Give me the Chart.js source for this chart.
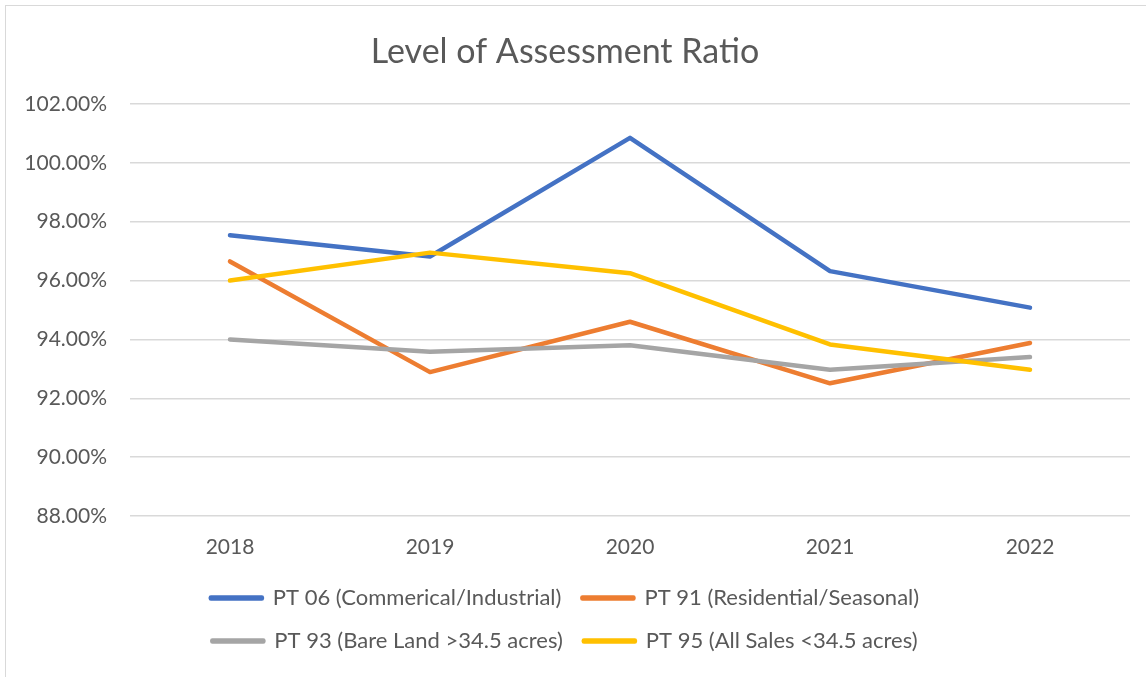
<!DOCTYPE html>
<html>
<head>
<meta charset="utf-8">
<title>Level of Assessment Ratio</title>
<script src="https://cdn.jsdelivr.net/npm/chart.js@4"></script>
<style>
  html, body { margin: 0; padding: 0; overflow: hidden; background: #fff; }
  #wrap { position: relative; width: 1146px; height: 677px; }
  #frame { position: absolute; left: 5px; top: 5px; width: 1200px; height: 700px;
           border: 1.5px solid #d9d9d9; pointer-events: none; }
</style>
</head>
<body>
<div id="wrap">
  <canvas id="loaChart" width="1146" height="677"></canvas>
  <div id="frame"></div>
</div>
<script>
// chart data
const years = ["2018", "2019", "2020", "2021", "2022"];
const pt06 = [97.54, 96.82, 100.85, 96.32, 95.08];
const pt91 = [96.65, 92.89, 94.60, 92.51, 93.88];
const pt93 = [94.00, 93.58, 93.80, 92.97, 93.40];
const pt95 = [96.00, 96.95, 96.25, 93.83, 92.97];
const yTicks = [88, 90, 92, 94, 96, 98, 100, 102];

const grey = "#595959";
const fontFamily = "Lato, 'Open Sans', sans-serif";

// keep the legend in two rows like the original (two items per row)
const twoRowLegend = {
  id: "twoRowLegend",
  afterInit(chart) {
    const legend = chart.legend;
    const fitRows = legend._fitRows;
    legend._fitRows = function () {
      const full = this.maxWidth;
      this.maxWidth = Math.min(full, 800);
      const h = fitRows.apply(this, arguments);
      this.maxWidth = full;
      return h;
    };
  }
};

function series(label, data, color, order) {
  return {
    label: label,
    data: data,
    borderColor: color,
    backgroundColor: color,
    borderWidth: 4.5,
    pointRadius: 0,
    pointHoverRadius: 0,
    tension: 0,
    borderCapStyle: "round",
    borderJoinStyle: "round",
    fill: false,
    order: order
  };
}

const ctx = document.getElementById("loaChart").getContext("2d");
new Chart(ctx, {
  type: "line",
  data: {
    labels: years,
    datasets: [
      series("PT 06 (Commerical/Industrial)", pt06, "#4472C4", 4),
      series("PT 91 (Residential/Seasonal)", pt91, "#ED7D31", 3),
      series("PT 93 (Bare Land >34.5 acres)", pt93, "#A5A5A5", 2),
      series("PT 95 (All Sales <34.5 acres)", pt95, "#FFC000", 1)
    ]
  },
  options: {
    responsive: false,
    animation: false,
    layout: { padding: { left: 0, right: 16, top: 0, bottom: 15 } },
    plugins: {
      title: {
        display: true,
        text: "Level of Assessment Ratio",
        color: grey,
        font: { family: fontFamily, size: 34, weight: "normal" },
        padding: { top: 31.6, bottom: 31.6 }
      },
      legend: {
        position: "bottom",
        labels: {
          color: grey,
          font: { family: fontFamily, size: 22 },
          boxWidth: 51,
          boxHeight: 1,
          padding: 21,
          sort: (a, b) => a.datasetIndex - b.datasetIndex
        }
      },
      tooltip: { enabled: false }
    },
    scales: {
      x: {
        offset: true,
        grid: { display: false, drawTicks: false },
        border: { display: false },
        ticks: {
          color: grey,
          font: { family: fontFamily, size: 21 },
          padding: 19,
          maxRotation: 0
        },
        afterFit: (scale) => { scale.height = 50; }
      },
      y: {
        min: yTicks[0],
        max: yTicks[yTicks.length - 1],
        afterBuildTicks: (scale) => { scale.ticks = yTicks.map((v) => ({ value: v })); },
        grid: { color: "#d9d9d9", lineWidth: 1.5, drawTicks: false },
        border: { display: false },
        ticks: {
          color: grey,
          font: { family: fontFamily, size: 21 },
          padding: 23,
          callback: (v) => v.toFixed(2) + "%"
        },
        afterFit: (scale) => { scale.width = 130; }
      }
    }
  },
  plugins: [twoRowLegend]
});
</script>
</body>
</html>
